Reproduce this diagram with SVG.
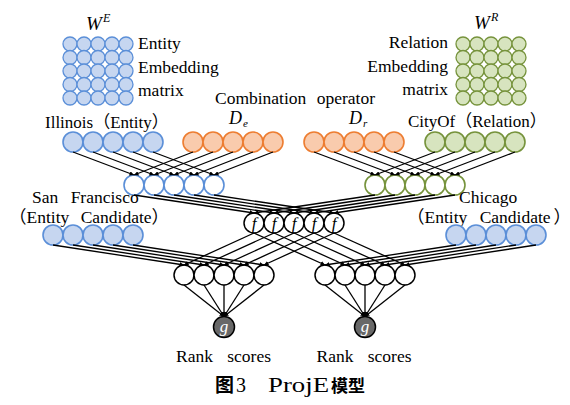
<svg xmlns="http://www.w3.org/2000/svg" width="570" height="405" viewBox="0 0 570 405">
<defs>
<marker id="ah" viewBox="0 0 6 6" refX="6" refY="3" markerWidth="4.5" markerHeight="4.5" markerUnits="userSpaceOnUse" orient="auto"><path d="M0,0 L6,3 L0,6 z" fill="#000"/></marker>
<style>
.mb{fill:#c6d6f0;stroke:#5b8fd8;stroke-width:1.3}
.mg{fill:#d7e4bf;stroke:#76933c;stroke-width:1.3}
.b{fill:#c6d6f0;stroke:#5b8fd8;stroke-width:1.6}
.o{fill:#f9cbad;stroke:#ed7d31;stroke-width:1.6}
.g{fill:#d7e4bf;stroke:#76933c;stroke-width:1.6}
.wb{fill:#fff;stroke:#5b8fd8;stroke-width:1.6}
.wg{fill:#fff;stroke:#76933c;stroke-width:1.6}
.wk{fill:#fff;stroke:#000;stroke-width:1.5}
.gk{fill:#686868;stroke:#000;stroke-width:1.5}
.ln line{stroke:#000;stroke-width:1.3;marker-end:url(#ah)}
</style>
</defs>
<rect width="570" height="405" fill="#fff"/>

<g id="entity-matrix">
<g class="mb">
<circle cx="70" cy="44" r="7"/><circle cx="84" cy="44" r="7"/><circle cx="98" cy="44" r="7"/><circle cx="112" cy="44" r="7"/><circle cx="126" cy="44" r="7"/>
<circle cx="70" cy="57.5" r="7"/><circle cx="84" cy="57.5" r="7"/><circle cx="98" cy="57.5" r="7"/><circle cx="112" cy="57.5" r="7"/><circle cx="126" cy="57.5" r="7"/>
<circle cx="70" cy="71" r="7"/><circle cx="84" cy="71" r="7"/><circle cx="98" cy="71" r="7"/><circle cx="112" cy="71" r="7"/><circle cx="126" cy="71" r="7"/>
<circle cx="70" cy="84.5" r="7"/><circle cx="84" cy="84.5" r="7"/><circle cx="98" cy="84.5" r="7"/><circle cx="112" cy="84.5" r="7"/><circle cx="126" cy="84.5" r="7"/>
<circle cx="70" cy="98" r="7"/><circle cx="84" cy="98" r="7"/><circle cx="98" cy="98" r="7"/><circle cx="112" cy="98" r="7"/><circle cx="126" cy="98" r="7"/>
</g>
<text x="86" y="30" font-family="Liberation Serif, serif" font-style="italic" font-size="19">W</text><text x="103" y="22" font-family="Liberation Serif, serif" font-style="italic" font-size="12">E</text>
<text x="138" y="49" font-family="Liberation Serif, serif" font-size="17.5">Entity</text>
<text x="138" y="73" font-family="Liberation Serif, serif" font-size="17.5">Embedding</text>
<text x="138" y="96" font-family="Liberation Serif, serif" font-size="17.5">matrix</text>
</g>

<g id="relation-matrix">
<g class="mg">
<circle cx="463" cy="44" r="7"/><circle cx="477" cy="44" r="7"/><circle cx="491" cy="44" r="7"/><circle cx="505" cy="44" r="7"/><circle cx="519" cy="44" r="7"/>
<circle cx="463" cy="57.5" r="7"/><circle cx="477" cy="57.5" r="7"/><circle cx="491" cy="57.5" r="7"/><circle cx="505" cy="57.5" r="7"/><circle cx="519" cy="57.5" r="7"/>
<circle cx="463" cy="71" r="7"/><circle cx="477" cy="71" r="7"/><circle cx="491" cy="71" r="7"/><circle cx="505" cy="71" r="7"/><circle cx="519" cy="71" r="7"/>
<circle cx="463" cy="84.5" r="7"/><circle cx="477" cy="84.5" r="7"/><circle cx="491" cy="84.5" r="7"/><circle cx="505" cy="84.5" r="7"/><circle cx="519" cy="84.5" r="7"/>
<circle cx="463" cy="98" r="7"/><circle cx="477" cy="98" r="7"/><circle cx="491" cy="98" r="7"/><circle cx="505" cy="98" r="7"/><circle cx="519" cy="98" r="7"/>
</g>
<text x="474" y="29" font-family="Liberation Serif, serif" font-style="italic" font-size="19">W</text><text x="491" y="21" font-family="Liberation Serif, serif" font-style="italic" font-size="12">R</text>
<text x="448" y="48" text-anchor="end" font-family="Liberation Serif, serif" font-size="17.5">Relation</text>
<text x="448" y="72" text-anchor="end" font-family="Liberation Serif, serif" font-size="17.5">Embedding</text>
<text x="448" y="95" text-anchor="end" font-family="Liberation Serif, serif" font-size="17.5">matrix</text>
</g>

<g id="combination-operator">
<text x="295" y="104" text-anchor="middle" word-spacing="6" font-family="Liberation Serif, serif" font-size="17.5">Combination operator</text>
</g>

<g id="illinois">
<text x="45" y="128" font-family="Liberation Serif, serif" font-size="17">Illinois<tspan font-family="Noto Sans CJK SC, sans-serif">（</tspan>Entity<tspan font-family="Noto Sans CJK SC, sans-serif">）</tspan></text>
<circle class="b" cx="73" cy="142" r="10"/><circle class="b" cx="93" cy="142" r="10"/><circle class="b" cx="113" cy="142" r="10"/><circle class="b" cx="133" cy="142" r="10"/><circle class="b" cx="153" cy="142" r="10"/>
</g>

<g id="De">
<text x="229" y="124" font-family="Liberation Serif, serif" font-style="italic" font-size="18">D</text><text x="243" y="127" font-family="Liberation Serif, serif" font-style="italic" font-size="11">e</text>
<circle class="o" cx="193" cy="142" r="10"/><circle class="o" cx="213" cy="142" r="10"/><circle class="o" cx="233" cy="142" r="10"/><circle class="o" cx="253" cy="142" r="10"/><circle class="o" cx="273" cy="142" r="10"/>
</g>

<g id="Dr">
<text x="349" y="124" font-family="Liberation Serif, serif" font-style="italic" font-size="18">D</text><text x="363" y="127" font-family="Liberation Serif, serif" font-style="italic" font-size="11">r</text>
<circle class="o" cx="314" cy="142" r="10"/><circle class="o" cx="334" cy="142" r="10"/><circle class="o" cx="354" cy="142" r="10"/><circle class="o" cx="374" cy="142" r="10"/><circle class="o" cx="394" cy="142" r="10"/>
</g>

<g id="cityof">
<text x="408" y="127" font-family="Liberation Serif, serif" font-size="17">CityOf<tspan font-family="Noto Sans CJK SC, sans-serif">（</tspan>Relation<tspan font-family="Noto Sans CJK SC, sans-serif">）</tspan></text>
<circle class="g" cx="435" cy="142" r="10"/><circle class="g" cx="455" cy="142" r="10"/><circle class="g" cx="475" cy="142" r="10"/><circle class="g" cx="495" cy="142" r="10"/><circle class="g" cx="515" cy="142" r="10"/>
</g>

<g id="entity-combined">
<circle class="wb" cx="134" cy="185" r="10"/><circle class="wb" cx="154" cy="185" r="10"/><circle class="wb" cx="174" cy="185" r="10"/><circle class="wb" cx="194" cy="185" r="10"/><circle class="wb" cx="214" cy="185" r="10"/>
</g>

<g id="relation-combined">
<circle class="wg" cx="375" cy="185" r="10"/><circle class="wg" cx="395" cy="185" r="10"/><circle class="wg" cx="415" cy="185" r="10"/><circle class="wg" cx="435" cy="185" r="10"/><circle class="wg" cx="455" cy="185" r="10"/>
</g>

<g id="f-layer">
<circle class="wk" cx="254" cy="223" r="10"/><circle class="wk" cx="274" cy="223" r="10"/><circle class="wk" cx="294" cy="223" r="10"/><circle class="wk" cx="314" cy="223" r="10"/><circle class="wk" cx="334" cy="223" r="10"/>
<text x="254" y="229" font-family="Liberation Serif, serif" font-style="italic" font-size="17" text-anchor="middle">f</text><text x="274" y="229" font-family="Liberation Serif, serif" font-style="italic" font-size="17" text-anchor="middle">f</text><text x="294" y="229" font-family="Liberation Serif, serif" font-style="italic" font-size="17" text-anchor="middle">f</text><text x="314" y="229" font-family="Liberation Serif, serif" font-style="italic" font-size="17" text-anchor="middle">f</text><text x="334" y="229" font-family="Liberation Serif, serif" font-style="italic" font-size="17" text-anchor="middle">f</text>
</g>

<g id="san-francisco">
<text x="32" y="203" word-spacing="8" font-family="Liberation Serif, serif" font-size="17.5">San Francisco</text>
<text x="9" y="223" word-spacing="7" font-family="Liberation Serif, serif" font-size="17.5"><tspan font-family="Noto Sans CJK SC, sans-serif">（</tspan>Entity Candidate<tspan font-family="Noto Sans CJK SC, sans-serif">）</tspan></text>
<circle class="b" cx="53" cy="235" r="10"/><circle class="b" cx="73" cy="235" r="10"/><circle class="b" cx="93" cy="235" r="10"/><circle class="b" cx="113" cy="235" r="10"/><circle class="b" cx="133" cy="235" r="10"/>
</g>

<g id="chicago">
<text x="459" y="203" font-family="Liberation Serif, serif" font-size="17.5">Chicago</text>
<text x="407" y="223" word-spacing="8" font-family="Liberation Serif, serif" font-size="17.5"><tspan font-family="Noto Sans CJK SC, sans-serif">（</tspan>Entity Candidate<tspan dx="3" font-family="Noto Sans CJK SC, sans-serif">）</tspan></text>
<circle class="b" cx="456" cy="235" r="10"/><circle class="b" cx="476" cy="235" r="10"/><circle class="b" cx="496" cy="235" r="10"/><circle class="b" cx="516" cy="235" r="10"/><circle class="b" cx="536" cy="235" r="10"/>
</g>

<g id="hidden-left">
<circle class="wk" cx="184" cy="275" r="10"/><circle class="wk" cx="204" cy="275" r="10"/><circle class="wk" cx="224" cy="275" r="10"/><circle class="wk" cx="244" cy="275" r="10"/><circle class="wk" cx="264" cy="275" r="10"/>
</g>
<g id="hidden-right">
<circle class="wk" cx="325" cy="275" r="10"/><circle class="wk" cx="345" cy="275" r="10"/><circle class="wk" cx="365" cy="275" r="10"/><circle class="wk" cx="385" cy="275" r="10"/><circle class="wk" cx="405" cy="275" r="10"/>
</g>

<g id="g-left">
<circle class="gk" cx="224" cy="327" r="10.5"/>
<text x="224" y="332" font-family="Liberation Serif, serif" font-style="italic" font-size="17" fill="#fff" text-anchor="middle">g</text>
<text x="223.5" y="362" text-anchor="middle" word-spacing="10" font-family="Liberation Serif, serif" font-size="17.5">Rank scores</text>
</g>
<g id="g-right">
<circle class="gk" cx="365" cy="327" r="10.5"/>
<text x="365" y="332" font-family="Liberation Serif, serif" font-style="italic" font-size="17" fill="#fff" text-anchor="middle">g</text>
<text x="364" y="362" text-anchor="middle" word-spacing="10" font-family="Liberation Serif, serif" font-size="17.5">Rank scores</text>
</g>

<g id="connectors" class="ln">
<line x1="73" y1="152" x2="134" y2="175"/><line x1="93" y1="152" x2="154" y2="175"/><line x1="113" y1="152" x2="174" y2="175"/><line x1="133" y1="152" x2="194" y2="175"/><line x1="153" y1="152" x2="214" y2="175"/>
<line x1="193" y1="152" x2="134" y2="175"/><line x1="213" y1="152" x2="154" y2="175"/><line x1="233" y1="152" x2="174" y2="175"/><line x1="253" y1="152" x2="194" y2="175"/><line x1="273" y1="152" x2="214" y2="175"/>
<line x1="314" y1="152" x2="375" y2="175"/><line x1="334" y1="152" x2="395" y2="175"/><line x1="354" y1="152" x2="415" y2="175"/><line x1="374" y1="152" x2="435" y2="175"/><line x1="394" y1="152" x2="455" y2="175"/>
<line x1="435" y1="152" x2="375" y2="175"/><line x1="455" y1="152" x2="395" y2="175"/><line x1="475" y1="152" x2="415" y2="175"/><line x1="495" y1="152" x2="435" y2="175"/><line x1="515" y1="152" x2="455" y2="175"/>

<line x1="134" y1="195" x2="254" y2="213"/><line x1="154" y1="195" x2="274" y2="213"/><line x1="174" y1="195" x2="294" y2="213"/><line x1="194" y1="195" x2="314" y2="213"/><line x1="214" y1="195" x2="334" y2="213"/>
<line x1="375" y1="195" x2="254" y2="213"/><line x1="395" y1="195" x2="274" y2="213"/><line x1="415" y1="195" x2="294" y2="213"/><line x1="435" y1="195" x2="314" y2="213"/><line x1="455" y1="195" x2="334" y2="213"/>

<line x1="254" y1="233" x2="184" y2="265"/><line x1="274" y1="233" x2="204" y2="265"/><line x1="294" y1="233" x2="224" y2="265"/><line x1="314" y1="233" x2="244" y2="265"/><line x1="334" y1="233" x2="264" y2="265"/>
<line x1="254" y1="233" x2="325" y2="265"/><line x1="274" y1="233" x2="345" y2="265"/><line x1="294" y1="233" x2="365" y2="265"/><line x1="314" y1="233" x2="385" y2="265"/><line x1="334" y1="233" x2="405" y2="265"/>
<line x1="53" y1="245" x2="184" y2="265"/><line x1="73" y1="245" x2="204" y2="265"/><line x1="93" y1="245" x2="224" y2="265"/><line x1="113" y1="245" x2="244" y2="265"/><line x1="133" y1="245" x2="264" y2="265"/>
<line x1="456" y1="245" x2="325" y2="265"/><line x1="476" y1="245" x2="345" y2="265"/><line x1="496" y1="245" x2="365" y2="265"/><line x1="516" y1="245" x2="385" y2="265"/><line x1="536" y1="245" x2="405" y2="265"/>

<line x1="184" y1="285" x2="224" y2="316.5"/><line x1="204" y1="285" x2="224" y2="316.5"/><line x1="224" y1="285" x2="224" y2="316.5"/><line x1="244" y1="285" x2="224" y2="316.5"/><line x1="264" y1="285" x2="224" y2="316.5"/>
<line x1="325" y1="285" x2="365" y2="316.5"/><line x1="345" y1="285" x2="365" y2="316.5"/><line x1="365" y1="285" x2="365" y2="316.5"/><line x1="385" y1="285" x2="365" y2="316.5"/><line x1="405" y1="285" x2="365" y2="316.5"/>
</g>

<g id="caption">
<text x="215" y="392" font-size="19" font-family="Liberation Serif, serif"><tspan font-family="Noto Sans CJK SC, sans-serif" font-weight="bold">图</tspan><tspan x="236" font-size="20">3</tspan><tspan x="268" font-size="21" textLength="61" lengthAdjust="spacingAndGlyphs">ProjE</tspan><tspan x="331" font-size="17" font-family="Noto Sans CJK SC, sans-serif" font-weight="bold">模型</tspan></text>
</g>
</svg>
